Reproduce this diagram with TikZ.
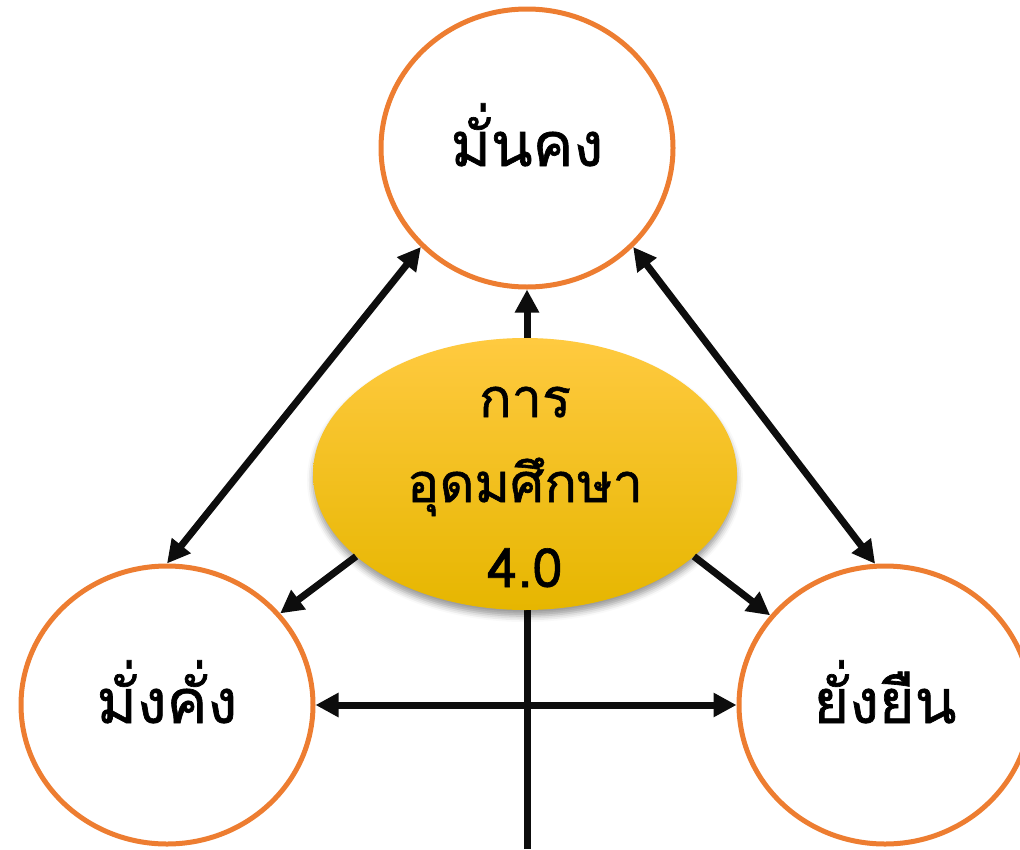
\documentclass[tikz,border=0pt]{standalone}
\usepackage{fontspec}
\newfontfamily\thaifont[Script=Thai,FakeBold=1.1]{Loma}
\usetikzlibrary{arrows.meta,shapes.geometric,shadows.blur}
\definecolor{ringorange}{RGB}{237,125,49}
\definecolor{arrowblack}{RGB}{13,13,13}
\definecolor{goldtop}{RGB}{255,202,64}
\definecolor{goldmid}{RGB}{255,192,0}
\definecolor{goldbot}{RGB}{230,182,0}

\begin{document}
\begin{tikzpicture}[x=1pt,y=-1pt,
  ring/.style={ellipse,draw=ringorange,line width=5pt,fill=white,
    minimum width=292pt,minimum height=278pt,inner sep=0pt,
    font=\thaifont\fontsize{61}{70}\selectfont,text height=36pt,text depth=0pt},
  hub/.style={ellipse,minimum width=424pt,minimum height=272pt,inner sep=0pt,
    top color=goldtop,middle color=goldmid,bottom color=goldbot,
    blur shadow={shadow xshift=0pt,shadow yshift=-6pt,shadow blur radius=6pt}},
  hubtext/.style={align=center,inner sep=0pt,font=\thaifont\fontsize{54}{85}\selectfont},
  link/.style={line width=7pt,draw=arrowblack},
  >={Triangle[length=23pt,width=23pt]}]
\useasboundingbox (0,0) rectangle (1020,849);

\node[ring] (stable) at (527,148) {มั่นคง};
\node[ring] (wealthy) at (167,705) {มั่งคั่ง};
\node[ring] (lasting) at (885,705) {ยั่งยืน};
\coordinate (foot) at (527,849);

\draw[link,->] (foot) -- (stable.south);
\node[hub] (edu) at (525,474) {};
\node[hubtext] (edutext) at (525,487) {การ\\อุดมศึกษา\\4.0};

\draw[link,<->] (wealthy.north) -- (stable.223);
\draw[link,<->] (stable.317) -- (lasting.94);
\draw[link,<->] (wealthy.east) -- (lasting.west);
\draw[link,->] (edu.206) -- (wealthy.39);
\draw[link,->] (edu.334) -- (lasting.142);
\end{tikzpicture}
\end{document}
